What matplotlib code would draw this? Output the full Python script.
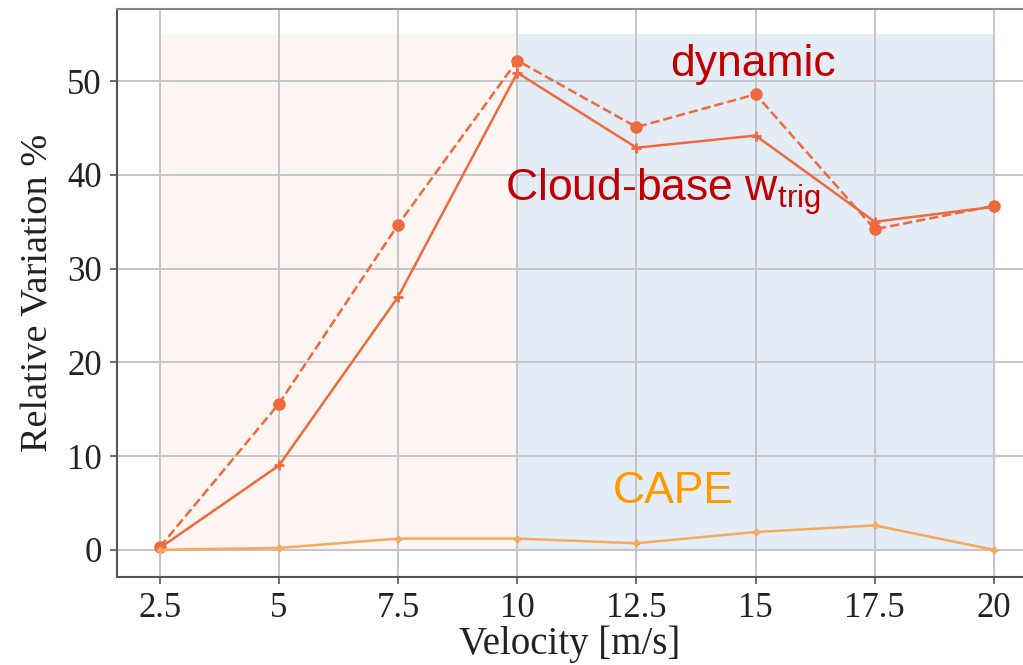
import matplotlib
matplotlib.use("Agg")
import matplotlib.pyplot as plt

# Wind velocity [m/s]
velocity = [2.5, 5, 7.5, 10, 12.5, 15, 17.5, 20]
xtick_labels = ["2.5", "5", "7.5", "10", "12.5", "15", "17.5", "20"]
yticks = [0, 10, 20, 30, 40, 50]

# Relative variation [%]
dynamic = [0.3, 15.6, 34.7, 52.2, 45.1, 48.6, 34.2, 36.7]
cloud_base_wtrig = [0.2, 9.0, 27.0, 50.9, 42.9, 44.2, 35.0, 36.6]
cape = [0.0, 0.2, 1.2, 1.2, 0.7, 1.9, 2.6, 0.0]

# Shaded velocity regimes
low_regime = (2.5, 10)
high_regime = (10, 20)
shade_top = 55

plt.rcParams["mathtext.fontset"] = "custom"
plt.rcParams["mathtext.rm"] = "Liberation Sans"
plt.rcParams["mathtext.it"] = "Liberation Sans:italic"

serif = "Liberation Serif"
sans = "Liberation Sans"

fig = plt.figure(figsize=(10.23, 6.65), dpi=100)
ax = fig.add_axes([117 / 1023, 1 - 577 / 665, 1 - 117 / 1023, (577 - 9) / 665])

ax.fill_between(low_regime, 0, shade_top, color="#fdf5f1", zorder=0, lw=0)
ax.fill_between(high_regime, 0, shade_top, color="#e4ecf6", zorder=0, lw=0)

line_col = "#ee6a3c"
ax.plot(velocity, dynamic, ls="--", marker="o", ms=8, color=line_col, lw=1.8, zorder=3)
ax.plot(velocity, cloud_base_wtrig, ls="-", marker="+", ms=7, mew=2, color=line_col, lw=1.8, zorder=3)
ax.plot(velocity, cape, ls="-", marker="P", ms=5, color="#f5a95a", lw=1.8, zorder=3)

ax.set_xlim(1.6, 20.61)
ax.set_ylim(-2.9, 57.7)
ax.set_xticks(velocity)
ax.set_xticklabels(xtick_labels)
ax.set_yticks(yticks)

ax.grid(True, color="#c4c4ca", lw=1.4, zorder=1)
ax.set_axisbelow(True)
for side in ["left", "bottom", "top"]:
    ax.spines[side].set_color("#555555")
    ax.spines[side].set_linewidth(1.5)
ax.spines["top"].set_color("#888888")
ax.spines["right"].set_visible(False)

ax.tick_params(axis="both", direction="out", length=5, width=1.2, color="#555555",
               labelsize=25, labelcolor="#222222", pad=6)
for lab in ax.get_xticklabels() + ax.get_yticklabels():
    lab.set_fontfamily(serif)

ax.set_xlabel("Velocity [m/s]", fontsize=28, family=serif, color="#222222", labelpad=0)
ax.set_ylabel("Relative Variation %", fontsize=27.5, family=serif, color="#222222", labelpad=8)

ax.text(14.94, 50.5, "dynamic", color="#c00000", fontsize=32, family=sans, ha="center", va="baseline")
ax.text(9.74, 37.2, r"Cloud-base w$_{\mathrm{trig}}$", color="#c00000", fontsize=32,
        family=sans, ha="left", va="baseline")
ax.text(13.28, 5.0, "CAPE", color="#ff9900", fontsize=32, family=sans, ha="center", va="baseline")

fig.savefig("out.png", dpi=100)
